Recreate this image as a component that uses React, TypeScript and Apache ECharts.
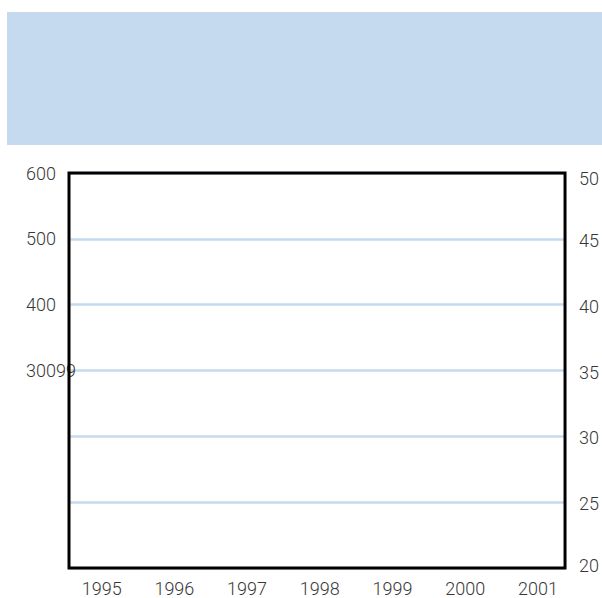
import React, { useEffect, useRef } from "react";
import * as echarts from "echarts";

const years = ["1995", "1996", "1997", "1998", "1999", "2000", "2001"];
const leftTickValues = [0, 100, 200, 300, 400, 500, 600];
const leftTickLabels = ["", "", "", "30099", "400", "500", "600"];
const rightMin = 20;
const rightMax = 50;
const rightStep = 5;

const FONT = '"Roboto", sans-serif';
const LABEL_COLOR = "#383838";
const BLUE = "#c5daee";

export default function App() {
  const ref = useRef<HTMLDivElement>(null);
  useEffect(() => {
    if (!ref.current) return;
    const chart = echarts.init(ref.current, undefined, { renderer: "svg" });
    const labelMap: Record<string, string> = {};
    leftTickValues.forEach((v, i) => (labelMap[String(v)] = leftTickLabels[i]));
    const label = {
      color: LABEL_COLOR,
      fontFamily: FONT,
      fontSize: 18,
      fontWeight: 300,
    };
    chart.setOption({
      animation: false,
      backgroundColor: "#ffffff",
      graphic: [
        {
          type: "rect",
          shape: { x: 7, y: 12, width: 595, height: 133 },
          style: { fill: BLUE },
          silent: true,
        },
      ],
      grid: [
        {
          left: 69,
          top: 173,
          width: 497,
          height: 395,
          show: true,
          borderColor: "#000",
          borderWidth: 3,
          backgroundColor: "transparent",
          z: 3,
        },
        { left: 65.3, top: 173, width: 509, height: 395, show: false },
      ],
      xAxis: [
        {
          type: "category",
          gridIndex: 0,
          data: years,
          show: false,
        },
        {
          type: "category",
          gridIndex: 1,
          data: years,
          boundaryGap: true,
          axisLine: { show: false },
          axisTick: { show: false },
          splitLine: { show: false },
          axisLabel: { ...label, margin: 11 },
        },
      ],
      yAxis: [
        {
          type: "value",
          gridIndex: 0,
          min: leftTickValues[0],
          max: leftTickValues[leftTickValues.length - 1],
          interval: 100,
          position: "left",
          axisLine: { show: false },
          axisTick: { show: false },
          splitLine: { show: true, lineStyle: { color: BLUE, width: 2.5 } },
          axisLabel: {
            ...label,
            margin: 43,
            align: "left",
            formatter: (v: number) => labelMap[String(v)] ?? "",
          },
        },
        {
          type: "value",
          gridIndex: 0,
          min: rightMin,
          max: rightMax,
          interval: rightStep,
          position: "right",
          axisLine: { show: false },
          axisTick: { show: false },
          splitLine: { show: false },
          axisLabel: {
            ...label,
            margin: 14,
            formatter: (v: number) =>
              v === rightMax ? `{t|${v}}` : v === rightMin ? `{b|${v}}` : `{n|${v}}`,
            rich: {
              t: { ...label, padding: [10, 0, 0, 0] },
              b: { ...label, padding: [0, 0, 6, 0] },
              n: { ...label, padding: [3, 0, 0, 0] },
            },
          },
        },
        {
          type: "value",
          gridIndex: 1,
          show: false,
          min: 0,
          max: 1,
        },
      ],
      series: [],
    });
    return () => chart.dispose();
  }, []);
  return (
    <div
      ref={ref}
      style={{ position: "fixed", left: 0, top: 0, width: 602, height: 598 }}
    />
  );
}
